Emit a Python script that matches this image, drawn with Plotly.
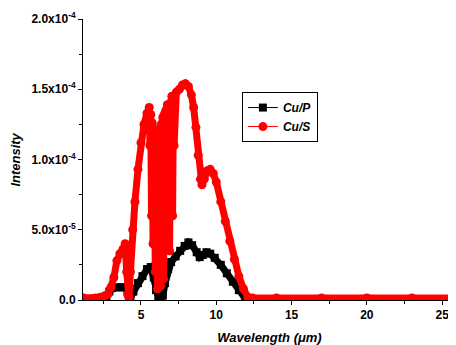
import plotly.graph_objects as go

# Cu/P series (wavelength in um, intensity)
cup_x = [1.2, 2.0, 2.5, 2.7, 2.9, 3.1, 3.4, 3.7, 3.95, 4.1, 4.2, 4.3, 4.5, 4.8, 5.1, 5.4, 5.65,
         5.85, 6.0, 6.15, 6.3, 6.45, 6.6, 6.8, 7.0, 7.3, 7.6, 7.9, 8.15, 8.4, 8.7, 8.9, 9.1,
         9.35, 9.6, 9.9, 10.3, 10.7, 11.1, 11.5, 11.9, 12.2, 13.0, 16.0, 20.0, 26.0]
cup_y = [0, 0, 0, 0.2e-5, 0.6e-5, 0.85e-5, 0.9e-5, 0.9e-5, 0.9e-5, 0.7e-5, 0.2e-5, 0.15e-5,
         0.6e-5, 1.2e-5, 1.7e-5, 2.2e-5, 2.35e-5, 1.6e-5, 0.7e-5, 0.25e-5, 0.2e-5, 0.3e-5,
         1.2e-5, 2.2e-5, 2.7e-5, 3.1e-5, 3.5e-5, 3.85e-5, 4.1e-5, 3.9e-5, 3.4e-5, 3.05e-5,
         3.2e-5, 3.4e-5, 3.3e-5, 3.0e-5, 2.5e-5, 1.9e-5, 1.3e-5, 0.7e-5, 0.15e-5, 0, 0, 0, 0, 0]

# Cu/S series
cus_x = [1.2, 2.0, 2.3, 2.6, 2.8, 3.0, 3.2, 3.4, 3.6, 3.8, 3.95, 4.05, 4.12, 4.2, 4.3, 4.45,
         4.6, 4.8, 5.0, 5.2, 5.4, 5.55, 5.6, 5.65, 5.7, 5.75, 5.8, 5.85, 5.9, 5.95, 6.0, 6.05,
         6.1, 6.15, 6.2, 6.25, 6.3, 6.35, 6.4, 6.45, 6.5, 6.55, 6.6, 6.65, 6.7, 6.75, 6.8,
         6.85, 6.9, 6.95, 7.0, 7.05, 7.1, 7.15, 7.2, 7.35, 7.55, 7.75, 7.95, 8.15, 8.35, 8.5,
         8.65, 8.8, 8.95, 9.05, 9.2, 9.4, 9.6, 9.8, 10.0, 10.3, 10.6, 10.9, 11.2, 11.5, 11.8,
         12.1, 12.4, 14.0, 17.0, 20.0, 23.0, 26.0]
cus_y = [0.15e-5, 0.15e-5, 0.2e-5, 0.3e-5, 0.4e-5, 0.9e-5, 1.6e-5, 2.8e-5, 3.3e-5, 3.6e-5,
         4.0e-5, 2.0e-5, 0.4e-5, 0.2e-5, 2.0e-5, 5.0e-5, 7.0e-5, 9.3e-5, 11.2e-5, 12.5e-5,
         13.3e-5, 13.7e-5, 11.0e-5, 13.2e-5, 6.0e-5, 12.6e-5, 4.0e-5, 12.2e-5, 8.0e-5,
         2.0e-5, 12.0e-5, 5.0e-5, 0.8e-5, 11.8e-5, 3.0e-5, 11.5e-5, 1.0e-5, 12.5e-5, 4.0e-5,
         13.0e-5, 1.5e-5, 13.2e-5, 7.0e-5, 13.5e-5, 5.0e-5, 13.9e-5, 9.0e-5, 13.5e-5, 3.5e-5,
         14.0e-5, 8.0e-5, 14.5e-5, 6.0e-5, 14.3e-5, 11.0e-5, 14.8e-5, 15.0e-5, 15.3e-5,
         15.4e-5, 15.2e-5, 14.6e-5, 13.7e-5, 12.3e-5, 10.3e-5, 8.6e-5, 8.2e-5, 8.6e-5, 9.2e-5,
         9.3e-5, 9.0e-5, 8.4e-5, 7.0e-5, 5.6e-5, 4.2e-5, 2.9e-5, 1.7e-5, 0.8e-5, 0.2e-5,
         0.15e-5, 0.15e-5, 0.15e-5, 0.15e-5, 0.15e-5, 0.15e-5]

series_names = ["Cu/P", "Cu/S"]

y_tickvals = [0, 5e-5, 1e-4, 1.5e-4, 2e-4]
y_ticktext = ["<b>0.0</b>", "<b>5.0x10<sup>-5</sup></b>", "<b>1.0x10<sup>-4</sup></b>",
              "<b>1.5x10<sup>-4</sup></b>", "<b>2.0x10<sup>-4</sup></b>"]
x_tickvals = [5, 10, 15, 20, 25]

FONT = "Arial, Liberation Sans, sans-serif"
RED = "#ff0000"

fig = go.Figure()
fig.add_trace(go.Scatter(
    x=cup_x, y=cup_y, name=series_names[0], mode="lines+markers", showlegend=False,
    line=dict(color="black", width=7),
    marker=dict(symbol="square", size=8, color="black"),
))
fig.add_trace(go.Scatter(
    x=cus_x, y=cus_y, name=series_names[1], mode="lines+markers", showlegend=False,
    line=dict(color=RED, width=7),
    marker=dict(symbol="circle", size=9, color=RED),
))
# legend entries (thin line + marker, as in the reference legend)
fig.add_trace(go.Scatter(
    x=[None], y=[None], name=series_names[0], mode="lines+markers",
    line=dict(color="black", width=1), marker=dict(symbol="square", size=8, color="black"),
))
fig.add_trace(go.Scatter(
    x=[None], y=[None], name=series_names[1], mode="lines+markers",
    line=dict(color=RED, width=1), marker=dict(symbol="circle", size=9, color=RED),
))

fig.update_layout(
    width=448, height=337,
    margin=dict(l=75, r=0, t=11, b=45),
    paper_bgcolor="white", plot_bgcolor="white",
    font=dict(family=FONT, color="black"),
    showlegend=True,
    legend=dict(
        x=0.426, y=0.74, xanchor="left", yanchor="top",
        bordercolor="black", borderwidth=1, bgcolor="white",
        font=dict(family=FONT, size=12, weight="bold", style="italic"),
        itemwidth=30, tracegroupgap=0,
    ),
    xaxis=dict(
        range=[1.15, 25.92], showgrid=False, zeroline=False, automargin=False,
        showline=True, linecolor="black", linewidth=1,
        ticks="outside", ticklen=4, tickcolor="black",
        tickmode="array", tickvals=x_tickvals,
        tickfont=dict(family=FONT, size=12, weight="bold"),
        minor=dict(ticks="outside", ticklen=3, tickcolor="black", tickmode="linear", tick0=2.5, dtick=5),
        title=dict(text="<b><i>Wavelength (μm)</i></b>", font=dict(family=FONT, size=13), standoff=13),
    ),
    yaxis=dict(
        range=[0, 2e-4], showgrid=False, zeroline=False, automargin=False,
        showline=True, linecolor="black", linewidth=1,
        ticks="outside", ticklen=4, tickcolor="black",
        tickmode="array", tickvals=y_tickvals, ticktext=y_ticktext,
        tickfont=dict(family=FONT, size=12),
        minor=dict(ticks="outside", ticklen=3, tickcolor="black", tickmode="linear", tick0=2.5e-5, dtick=5e-5),
    ),
    annotations=[dict(
        text="<b><i>Intensity</i></b>", xref="paper", yref="paper",
        x=-0.182, y=0.5, xanchor="center", yanchor="middle", textangle=-90,
        showarrow=False, font=dict(family=FONT, size=13, color="black"),
    )],
)

fig.write_html("out.html")
